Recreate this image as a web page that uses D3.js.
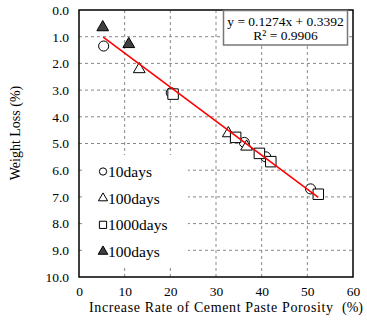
<!DOCTYPE html>
<html>
<head>
<meta charset="utf-8">
<script src="https://cdn.jsdelivr.net/npm/d3@7"></script>
<style>
  html, body { margin: 0; padding: 0; background: #fff; }
  svg { display: block; }
</style>
</head>
<body>
<svg id="chart" width="367" height="324"></svg>
<script>
// data
const days10 = [[5.4, 1.35], [20.2, 3.1], [36.2, 4.96], [40.9, 5.5], [50.7, 6.7]];
const days100 = [[13.2, 2.22], [32.7, 4.62], [36.7, 5.12]];
const days1000 = [[20.6, 3.15], [34.3, 4.77], [39.5, 5.37], [42.0, 5.68], [52.4, 6.9]];
const days100b = [[5.2, 0.65], [10.9, 1.28]];
const xTicks = [0, 10, 20, 30, 40, 50, 60];
const yTicks = [0, 1, 2, 3, 4, 5, 6, 7, 8, 9, 10];
const fitSlope = 0.1274;
const fitIntercept = 0.3392;
const fitRange = [5.3, 52.4];
const legendLabels = ['10days', '100days', '1000days', '100days'];

const FONT = '"Liberation Serif", "Times New Roman", serif';
const plot = { left: 79, right: 353, top: 10, bottom: 277 };

const svg = d3.select('#chart');
const x = d3.scaleLinear().domain([0, 60]).range([plot.left, plot.right]);
const y = d3.scaleLinear().domain([0, 10]).range([plot.top, plot.bottom]);

// grid
const grid = svg.append('g').attr('class', 'grid');
grid.selectAll('line.gx')
  .data(xTicks.slice(1, -1))
  .join('line')
  .attr('x1', d => x(d)).attr('x2', d => x(d))
  .attr('y1', plot.top).attr('y2', plot.bottom)
  .attr('stroke', '#888').attr('stroke-width', 1).attr('stroke-dasharray', '3,3');
grid.selectAll('line.gy')
  .data(yTicks.slice(1, -1))
  .join('line')
  .attr('x1', plot.left).attr('x2', plot.right)
  .attr('y1', d => y(d)).attr('y2', d => y(d))
  .attr('stroke', '#888').attr('stroke-width', 1).attr('stroke-dasharray', '3,3');

// axes (labels only, lines come from the frame)
const xAxis = svg.append('g')
  .attr('transform', `translate(0,${plot.bottom})`)
  .call(d3.axisBottom(x).tickValues(xTicks).tickSize(0).tickPadding(9).tickFormat(d3.format('d')));
const yAxis = svg.append('g')
  .attr('transform', `translate(${plot.left},0)`)
  .call(d3.axisLeft(y).tickValues(yTicks).tickSize(0).tickPadding(10).tickFormat(d3.format('.1f')));
[xAxis, yAxis].forEach(a => {
  a.select('.domain').remove();
  a.selectAll('text')
    .attr('font-family', FONT).attr('font-size', 13.5).attr('fill', '#000');
});

// frame
svg.append('rect')
  .attr('x', plot.left).attr('y', plot.top)
  .attr('width', plot.right - plot.left).attr('height', plot.bottom - plot.top)
  .attr('fill', 'none').attr('stroke', '#000').attr('stroke-width', 1.5);

// markers
const sym = (type, size) => d3.symbol().type(type).size(size)();
const marks = svg.append('g');
function drawSeries(data, type, size, fill) {
  marks.append('g').selectAll('path')
    .data(data)
    .join('path')
    .attr('d', sym(type, size))
    .attr('transform', d => `translate(${x(d[0])},${y(d[1])})`)
    .attr('fill', fill).attr('stroke', '#000').attr('stroke-width', 1);
}
drawSeries(days10, d3.symbolCircle, 80, '#fff');
drawSeries(days100, d3.symbolTriangle, 60, '#fff');
drawSeries(days1000, d3.symbolSquare, 110, '#fff');
drawSeries(days100b, d3.symbolTriangle, 60, '#404040');

// fit line
svg.append('line')
  .attr('x1', x(fitRange[0])).attr('y1', y(fitSlope * fitRange[0] + fitIntercept))
  .attr('x2', x(fitRange[1])).attr('y2', y(fitSlope * fitRange[1] + fitIntercept))
  .attr('stroke', '#ff0000').attr('stroke-width', 1.6);

// equation box
const eq = svg.append('g');
eq.append('rect')
  .attr('x', 223.5).attr('y', 10.5).attr('width', 124).attr('height', 34.5)
  .attr('fill', '#fff').attr('stroke', '#777').attr('stroke-width', 1.5);
eq.append('text')
  .attr('x', 285.5).attr('y', 26)
  .attr('text-anchor', 'middle')
  .attr('font-family', FONT).attr('font-size', 13.5)
  .text(`y = ${fitSlope}x + ${fitIntercept}`);
eq.append('text')
  .attr('x', 285.5).attr('y', 40)
  .attr('text-anchor', 'middle')
  .attr('font-family', FONT).attr('font-size', 13.5)
  .text('R² = 0.9906');

// legend
const legend = svg.append('g');
legend.append('rect')
  .attr('x', 83).attr('y', 155).attr('width', 105).attr('height', 110)
  .attr('fill', '#fff');
const legendSyms = [
  [d3.symbolCircle, 42, '#fff'],
  [d3.symbolTriangle, 36, '#fff'],
  [d3.symbolSquare, 52, '#fff'],
  [d3.symbolTriangle, 40, '#404040']
];
const ly = d3.scalePoint().domain(d3.range(4)).range([171.5, 251.5]);
legendLabels.forEach((lab, i) => {
  legend.append('path')
    .attr('d', sym(legendSyms[i][0], legendSyms[i][1]))
    .attr('transform', `translate(103,${ly(i)})`)
    .attr('fill', legendSyms[i][2]).attr('stroke', '#000').attr('stroke-width', 1);
  legend.append('text')
    .attr('x', 108).attr('y', ly(i))
    .attr('dy', '0.35em')
    .attr('font-family', FONT).attr('font-size', 15.5)
    .text(lab);
});

// axis titles
svg.append('text')
  .attr('transform', 'translate(20,133) rotate(-90)')
  .attr('text-anchor', 'middle')
  .attr('font-family', FONT).attr('font-size', 14)
  .text('Weight Loss (%)');
svg.append('text')
  .attr('x', 89).attr('y', 312)
  .attr('font-family', FONT).attr('font-size', 14)
  .attr('textLength', 244).attr('lengthAdjust', 'spacing')
  .text('Increase Rate of Cement Paste Porosity');
svg.append('text')
  .attr('x', 363).attr('y', 312)
  .attr('text-anchor', 'end')
  .attr('font-family', FONT).attr('font-size', 14)
  .text('(%)');
</script>
</body>
</html>
